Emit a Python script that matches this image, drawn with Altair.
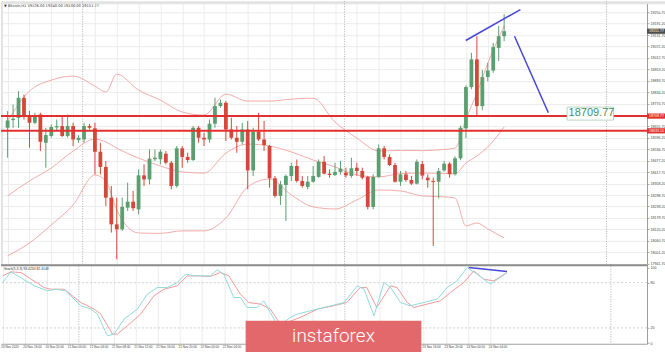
import altair as alt
import pandas as pd

# ---------------- candle data (H1) ----------------
opens = [18649, 18689, 18701, 18805, 18710, 18675, 18718, 18571, 18606, 18651,
         18658, 18606, 18658, 18585, 18588, 18658, 18646, 18524, 18445, 18285,
         18146, 18120, 18233, 18264, 18224, 18401, 18380, 18485, 18485, 18514,
         18467, 18346, 18542, 18497, 18481, 18649, 18597, 18588, 18670, 18762,
         18779, 18640, 18597, 18576, 18640, 18427, 18628, 18588, 18554, 18386,
         18294, 18351, 18398, 18450, 18372, 18341, 18368, 18393, 18472, 18410,
         18403, 18419, 18415, 18398, 18441, 18424, 18393, 18237, 18393, 18542,
         18497, 18455, 18368, 18406, 18377, 18358, 18460, 18389, 18372, 18368,
         18427, 18462, 18407, 18490, 18646, 18861, 19005, 18762, 18913, 18947,
         19065, 19126]
highs = [18736, 18770, 18840, 18822, 18736, 18727, 18727, 18649, 18666, 18692,
         18710, 18718, 18675, 18610, 18675, 18670, 18675, 18571, 18476, 18346,
         18285, 18285, 18363, 18320, 18432, 18458, 18536, 18536, 18536, 18528,
         18476, 18554, 18554, 18519, 18658, 18658, 18623, 18692, 18805, 18796,
         18788, 18701, 18658, 18675, 18684, 18649, 18727, 18684, 18559, 18398,
         18372, 18406, 18467, 18484, 18398, 18398, 18450, 18484, 18502, 18432,
         18467, 18476, 18441, 18493, 18467, 18441, 18398, 18406, 18562, 18554,
         18510, 18467, 18424, 18424, 18398, 18484, 18476, 18406, 18389, 18439,
         18476, 18470, 18500, 18660, 18870, 19039, 19126, 18950, 18987, 19091,
         19178, 19240]
lows = [18493, 18649, 18649, 18692, 18545, 18667, 18528, 18441, 18597, 18632,
        18601, 18597, 18554, 18570, 18571, 18640, 18406, 18406, 18242, 18103,
        17964, 18112, 18216, 18216, 18198, 18346, 18354, 18476, 18458, 18458,
        18328, 18337, 18441, 18467, 18476, 18571, 18554, 18571, 18649, 18753,
        18580, 18588, 18519, 18562, 18328, 18398, 18580, 18528, 18337, 18285,
        18247, 18164, 18372, 18363, 18337, 18328, 18363, 18389, 18406, 18389,
        18398, 18406, 18389, 18389, 18398, 18380, 18224, 18224, 18389, 18484,
        18450, 18363, 18346, 18368, 18351, 18354, 18380, 18337, 18034, 18282,
        18420, 18389, 18400, 18480, 18595, 18850, 18710, 18740, 18891, 18935,
        18996, 19100]
closes = [18687, 18696, 18805, 18710, 18675, 18715, 18576, 18611, 18653, 18658,
          18606, 18658, 18588, 18597, 18658, 18649, 18524, 18445, 18285, 18146,
          18120, 18237, 18264, 18230, 18401, 18380, 18488, 18493, 18524, 18467,
          18346, 18542, 18497, 18481, 18649, 18597, 18588, 18670, 18762, 18779,
          18640, 18597, 18576, 18640, 18427, 18628, 18588, 18559, 18386, 18294,
          18354, 18398, 18450, 18372, 18346, 18368, 18398, 18472, 18410, 18403,
          18419, 18436, 18401, 18438, 18424, 18389, 18237, 18393, 18542, 18497,
          18455, 18368, 18406, 18377, 18358, 18472, 18400, 18376, 18367, 18424,
          18462, 18407, 18490, 18649, 18861, 19005, 18762, 18913, 18947, 19069,
          19126, 19151.77]

# ---------------- Bollinger bands (read at sample bars) ----------------
band_idx = [0, 4, 8, 12, 16, 18, 20, 24, 28, 32, 36, 40, 44, 48, 52, 56, 60, 64,
            68, 72, 76, 80, 82, 84, 86, 88, 91]
band_upper = [18684, 18840, 18897, 18918, 18866, 18835, 18928, 18845, 18793, 18731,
              18715, 18824, 18788, 18788, 18798, 18803, 18679, 18595, 18528, 18531,
              18530, 18536, 18543, 18694, 18829, 18985, 19178]
band_middle = [18294, 18372, 18439, 18528, 18590, 18575, 18543, 18491, 18450, 18419,
               18413, 18517, 18564, 18554, 18523, 18481, 18445, 18403, 18393, 18410,
               18413, 18411, 18410, 18465, 18502, 18549, 18653]
band_lower = [17982, 18049, 18143, 18247, 18403, 18372, 18221, 18101, 18099, 18112,
              18112, 18179, 18341, 18382, 18299, 18237, 18226, 18273, 18325, 18320,
              18294, 18289, 18283, 18138, 18153, 18122, 18075]

# ---------------- Stochastic (5,3,3) ----------------
k_idx = [0, 1.5, 5.7, 8.1, 9.6, 11.4, 14.1, 15.9, 17.1, 18.9, 20.1, 21.9, 24.3, 26.1,
         27.9, 29.7, 31.5, 33.0, 34.5, 37.5, 38.7, 39.9, 41.7, 42.9, 44.1, 45.9, 47.1,
         48.3, 49.5, 50.7, 51.9, 53.2, 56.8, 59.2, 61.6, 64.0, 65.2, 67.0, 68.8, 70.0,
         71.8, 73.5, 76.0, 78.4, 80.2, 82.0, 83.8, 85.6, 88.0, 89.8, 91.0]
k_val = [80.2, 94.3, 75.8, 69.2, 71.3, 69.2, 49.3, 45.0, 38.4, 9.7, 11.9, 31.7, 45.0, 64.8,
         73.5, 73.5, 80.2, 91.3, 89.0, 89.0, 97.0, 91.3, 60.3, 60.3, 47.1, 47.1, 56.0,
         40.5, 25.1, 27.2, 33.9, 38.4, 45.0, 49.3, 53.7, 75.8, 71.4, 36.1, 80.2, 73.5,
         53.7, 49.3, 53.7, 58.2, 73.5, 82.4, 100.0, 91.3, 78.0, 86.8, 93.4]
d_idx = [0, 1.5, 3.3, 7.5, 8.7, 11.1, 14.1, 16.5, 17.7, 19.8, 20.7, 22.5, 24.9, 27.3,
         29.1, 31.5, 33.3, 35.1, 37.5, 39.3, 40.8, 42.9, 44.4, 46.5, 48.3, 50.1, 51.3,
         53.7, 56.8, 59.7, 62.1, 64.5, 65.7, 67.5, 70.0, 71.2, 73.0, 74.2, 76.6, 79.0,
         80.8, 83.2, 85.0, 86.8, 88.6, 91.0]
d_val = [89.0, 94.3, 93.4, 73.5, 71.3, 71.3, 53.7, 45.0, 38.4, 11.9, 11.9, 22.9, 38.4, 62.6,
         71.3, 75.8, 89.0, 89.0, 88.2, 93.4, 89.0, 64.8, 53.7, 51.6, 45.0, 25.1, 27.2,
         33.9, 45.0, 49.3, 53.7, 73.5, 73.5, 47.1, 75.8, 73.5, 53.7, 47.1, 51.6, 56.0,
         67.0, 80.2, 95.6, 84.6, 82.4, 93.4]

# ---------------- annotations ----------------
levels = [18709.77, 18633.10]
separators = [13.75, 61.75, 109.75]
trend_seg = ["a", "a", "b", "b"]
trend_idx = [83.96, 93.98, 92.9, 99.1]
trend_price = [19103.4, 19264.6, 19125.8, 18726.9]
stoch_trend_idx = [84.1, 91.0]
stoch_trend_val = [100.0, 94.7]
ann_idx = 102.9

price_ticks = [17941.70, 18001.20, 18060.70, 18120.20, 18179.70, 18239.20, 18298.70,
               18358.20, 18417.70, 18477.20, 18536.70, 18596.20, 18655.70, 18715.20,
               18774.70, 18834.20, 18893.70, 18953.20, 19012.70, 19072.20, 19131.70,
               19191.20, 19250.70]
stoch_ticks = [0, 20, 80, 100]
label_idx = list(range(0, 89, 4))
label_text = ["20 Nov 2020", "20 Nov 16:00", "20 Nov 20:00", "21 Nov 00:00", "21 Nov 04:00",
              "21 Nov 08:00", "21 Nov 12:00", "21 Nov 16:00", "21 Nov 20:00", "22 Nov 00:00",
              "22 Nov 04:00", "22 Nov 08:00", "22 Nov 12:00", "22 Nov 16:00", "22 Nov 20:00",
              "23 Nov 00:00", "23 Nov 04:00", "23 Nov 08:00", "23 Nov 12:00", "23 Nov 16:00",
              "23 Nov 20:00", "24 Nov 00:00", "24 Nov 04:00"]
# bars whose time labels sit fully under the watermark (hidden in the source)
hidden_label_bars = range(44, 73)

# ---------------- styling ----------------
W, H1, H2 = 647, 263, 80
GREEN, RED = "#5b9e6f", "#d6473b"
BAND = "#f2a2a2"
BLUE = "#4747d6"
GRID = "#ececec"
K_COLOR, D_COLOR = "#8fdcdc", "#f29a9a"
FONT = "Liberation Sans"

xs = alt.Scale(domain=[-0.3, 116.27], nice=False, zero=False)
ys = alt.Scale(domain=[17940.17, 19307.77], nice=False, zero=False)
ys2 = alt.Scale(domain=[-0.93, 104.89], nice=False, zero=False)

x_axis_top = alt.Axis(values=label_idx, labels=False, ticks=False, domain=False,
                      grid=True, gridColor=GRID, title=None)
y_axis_top = alt.Axis(orient="right", values=price_ticks, format=".2f", labelFontSize=3.6,
                      labelFont=FONT, labelColor="#444", labelPadding=1, tickSize=2,
                      tickColor="#aaa", domainColor="#9c9c9c", grid=True, gridColor=GRID,
                      labelOverlap=False, title=None)
x_axis_bot = alt.Axis(values=label_idx, labels=False, ticks=False, domain=True,
                      domainColor="#a0a0a0", grid=True, gridColor=GRID, title=None)
y_axis_bot = alt.Axis(orient="right", values=stoch_ticks, labelFontSize=3.6, labelFont=FONT,
                      labelColor="#444", labelPadding=1, tickSize=2, tickColor="#aaa",
                      domainColor="#9c9c9c", grid=False, labelOverlap=False, title=None)


def X(f):
    return alt.X(f"{f}:Q", scale=xs, axis=x_axis_top)


def Y(f):
    return alt.Y(f"{f}:Q", scale=ys, axis=y_axis_top)


def X2(f):
    return alt.X(f"{f}:Q", scale=xs, axis=x_axis_bot)


def Y2(f):
    return alt.Y(f"{f}:Q", scale=ys2, axis=y_axis_bot)


# ---------------- data frames ----------------
n = len(opens)
candles = pd.DataFrame({"i": list(range(n)), "open": opens, "high": highs,
                        "low": lows, "close": closes})
up = candles[candles["close"] >= candles["open"]]
down = candles[candles["close"] < candles["open"]]
nb = len(band_idx)
bands = pd.DataFrame({"i": band_idx * 3, "p": band_upper + band_middle + band_lower,
                      "band": ["upper"] * nb + ["middle"] * nb + ["lower"] * nb})
trend = pd.DataFrame({"i": trend_idx, "p": trend_price, "seg": trend_seg})
seps = pd.DataFrame({"i": separators})
lev = pd.DataFrame({"p": levels})
ann = pd.DataFrame({"i": [ann_idx], "p": [levels[0]], "t": [f"{levels[0]:.2f}"]})
lvl_boxes = pd.DataFrame({"p": levels, "t": [f"{v:.2f}" for v in levels]})
cur_box = pd.DataFrame({"p": [closes[-1]], "t": [f"{closes[-1]:.2f}"]})
one = pd.DataFrame({"a": [0]})
title_str = (f"\u25bc Bitcoin,H1  {opens[-1]:.2f} {highs[-1]:.2f} "
             f"{lows[-1]:.2f} {closes[-1]:.2f}")

# ---------------- price pane ----------------
strip_top = alt.Chart(one).mark_rect(color="#e3e3e3").encode(
    x=alt.value(0), x2=alt.value(665), y=alt.value(0), y2=alt.value(3))
strip_left = alt.Chart(one).mark_rect(color="#e3e3e3").encode(
    x=alt.value(0), x2=alt.value(2), y=alt.value(0), y2=alt.value(H1))
sep_top = alt.Chart(seps).mark_rule(color="#b0b0b0", strokeDash=[1, 1.5], strokeWidth=1).encode(
    x=X("i"))
band_layer = alt.Chart(bands).mark_line(color=BAND, strokeWidth=0.9, interpolate="monotone").encode(
    x=X("i"), y=Y("p"), detail="band:N")


def candle_layers(df, col):
    w = alt.Chart(df).mark_rule(strokeWidth=1, color=col).encode(
        x=X("i"), y=Y("low"), y2="high")
    b = alt.Chart(df).mark_bar(size=3.8, color=col).encode(
        x=X("i"), y=Y("open"), y2="close")
    return [w, b]


lev_layer = alt.Chart(lev).mark_rule(color="#e2302e", strokeWidth=2).encode(y=Y("p"))
trend_layer = alt.Chart(trend).mark_line(color=BLUE, strokeWidth=1.5).encode(
    x=X("i"), y=Y("p"), detail="seg:N")
ann_box = alt.Chart(ann).mark_rect(fill="white", stroke="#a8cdb2", strokeWidth=0.8,
                                   xOffset=-2, x2Offset=44.5, yOffset=-9, y2Offset=4).encode(
    x=X("i"), x2="i", y=Y("p"), y2="p")
ann_text = alt.Chart(ann).mark_text(align="left", baseline="middle", fontSize=11, font=FONT,
                                    color="#3f8f5f", dx=-0.5, dy=-2.7).encode(
    x=X("i"), y=Y("p"), text="t:N")
lvl_rect = alt.Chart(lvl_boxes).mark_rect(yOffset=-2.6, y2Offset=2.6, color="#e0302e").encode(
    x=alt.value(647), x2=alt.value(665), y=Y("p"), y2="p")
cur_rect = alt.Chart(cur_box).mark_rect(yOffset=-2.6, y2Offset=2.6, color="#4d4d4d").encode(
    x=alt.value(647), x2=alt.value(665), y=Y("p"), y2="p")
box_text = alt.Chart(pd.concat([lvl_boxes, cur_box])).mark_text(
    align="left", baseline="middle", fontSize=3.6, font=FONT, color="white").encode(
    x=alt.value(649), y=Y("p"), text="t:N")
title_text = alt.Chart(pd.DataFrame({"t": [title_str]})).mark_text(
    align="left", baseline="middle", fontSize=3.6, font="DejaVu Sans", color="#333").encode(
    x=alt.value(3), y=alt.value(5), text="t:N")

top = alt.layer(strip_top, strip_left, sep_top, band_layer,
                *candle_layers(up, GREEN), *candle_layers(down, RED), lev_layer,
                trend_layer, ann_box, ann_text, lvl_rect, cur_rect, box_text, title_text
                ).properties(width=W, height=H1)

# ---------------- stochastic pane ----------------
k_df = pd.DataFrame({"i": k_idx, "v": k_val})
d_df = pd.DataFrame({"i": d_idx, "v": d_val})
stoch_lv = pd.DataFrame({"v": [20, 80]})
stoch_tr = pd.DataFrame({"i": stoch_trend_idx, "v": stoch_trend_val})
xlab = pd.DataFrame({"i": label_idx, "t": label_text})
xlab = xlab[~xlab["i"].isin(list(hidden_label_bars))]

lv_layer = alt.Chart(stoch_lv).mark_rule(color="#c4c4c4", strokeDash=[2, 2], strokeWidth=0.8).encode(
    y=Y2("v"))
sep_bot = alt.Chart(seps).mark_rule(color="#b0b0b0", strokeDash=[1, 1.5], strokeWidth=1).encode(
    x=X2("i"))
k_layer = alt.Chart(k_df).mark_line(strokeWidth=1, color=K_COLOR).encode(x=X2("i"), y=Y2("v"))
d_layer = alt.Chart(d_df).mark_line(strokeWidth=1, color=D_COLOR).encode(x=X2("i"), y=Y2("v"))
stoch_blue = alt.Chart(stoch_tr).mark_line(color=BLUE, strokeWidth=1.5).encode(
    x=X2("i"), y=Y2("v"))
pane_sep = alt.Chart(one).mark_rule(color="#8c8c8c", strokeWidth=2).encode(
    x=alt.value(0), x2=alt.value(W), y=alt.value(1.3))
stoch_label = alt.Chart(pd.DataFrame({"t": ["Stoch(5,3,3) 93.4234 82.4148"]})).mark_text(
    align="left", baseline="middle", fontSize=3.4, font=FONT, color="#333").encode(
    x=alt.value(3), y=alt.value(4.8), text="t:N")
xlab_layer = alt.Chart(xlab).mark_text(align="left", baseline="middle", fontSize=3.1, font=FONT,
                                       color="#444", dx=-1.5).encode(
    x=X2("i"), y=alt.value(83.3), text="t:N")
wm_rect = alt.Chart(one).mark_rect(color="#e3686c").encode(
    x=alt.value(245), x2=alt.value(421), y=alt.value(57), y2=alt.value(89))
wm_text = alt.Chart(pd.DataFrame({"t": ["instaforex"]})).mark_text(
    align="center", baseline="alphabetic", fontSize=19, font="Roboto", fontWeight=300,
    color="white").encode(x=alt.value(333), y=alt.value(78), text="t:N")

bottom = alt.layer(lv_layer, sep_bot, d_layer, k_layer, stoch_blue, pane_sep, stoch_label,
                   xlab_layer, wm_rect, wm_text).properties(width=W, height=H2)

chart = alt.vconcat(top, bottom, spacing=0, bounds="flush").properties(
    padding=0,
    autosize=alt.AutoSizeParams(type="pad"),
    background="white",
).configure_view(stroke=None)

chart.save("out.html", embed_options={"renderer": "svg", "actions": False})
